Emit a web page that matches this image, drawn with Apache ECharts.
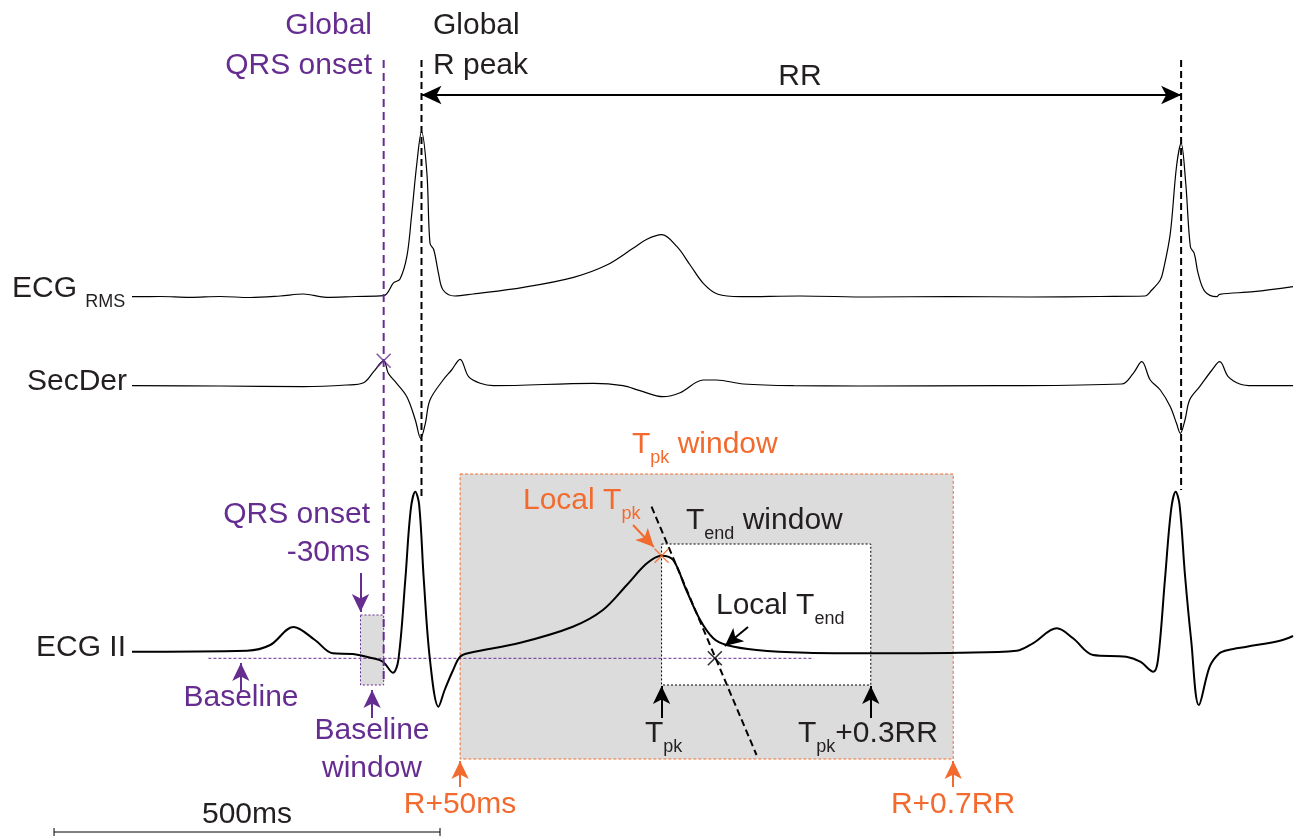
<!DOCTYPE html>
<html>
<head>
<meta charset="utf-8">
<script src="https://cdn.jsdelivr.net/npm/echarts/dist/echarts.min.js"></script>
<style>
  html, body { margin: 0; padding: 0; background: #fff; }
  #chart { width: 1300px; height: 838px; }
</style>
</head>
<body>
<div id="chart"></div>
<script>
// ---------------- DATA (time in ms, amplitude in arbitrary units) ----------------
// ECG RMS
const rmsTime = [101,137,176,215,254,293,323,353,390,427,440,448,457,463,470,476,483,487,492,498,504,519,543,608,673,716,750,768,787,807,824,841,860,889,966,1057,1161,1264,1355,1413,1422,1433,1437,1446,1454,1460,1466,1472,1477,1482,1491,1506,1510,1554,1605];
const rmsAmp  = [0,0.2,-0.6,0.2,-0.8,0.7,2.7,-0.6,0.2,1,14,17.4,40,80,133.4,165,123.4,53.4,46.7,23.4,6.7,0.7,2.7,9.4,19.4,31.7,48.4,57.4,62,50,31.7,13.4,2.4,0,0.7,-0.3,0.2,-0.3,0.2,0.7,6.7,16.7,26.7,63.4,130,153.4,113.4,50,43.4,23.4,5,0,2.4,5,10];
// Second derivative
const secTime = [101,215,323,379,401,414,427,433,442,457,468,475,481,487,504,515,526,537,552,569,699,737,759,789,811,841,858,893,958,1044,1225,1383,1398,1409,1420,1433,1446,1454,1459,1465,1471,1484,1500,1510,1521,1536,1553,1605];
const secAmp  = [0,-0.3,-1,0.7,3,14,25,12.4,4,-11,-34.3,-52.6,-37.6,-14.3,5.7,15.7,26.4,9,2.4,0,2.4,0,-5,-11,-7,5.7,5.7,1.7,0,-0.3,0,1.7,12.4,24,5.7,-4.3,-21,-37.6,-47.6,-34.3,-14.3,-1,15.7,24,9,1.7,0,0];
// ECG lead II
const ecgTime = [101,250,280,310,338,361,387,413,426,439,446,455,462,468,473,479,487,498,506,517,526,539,604,672,711,742,768,787,802,819,837,854,871,910,975,1061,1173,1247,1268,1299,1320,1346,1389,1407,1424,1430,1439,1447,1453,1458,1465,1473,1483,1497,1509,1521,1545,1588,1605];
const ecgAmp  = [0,1,6.7,24.7,11.7,-1.6,-2.3,-6.6,-10,-21,-8.3,71.7,141.7,160,146.7,71.7,-8.3,-55,-38.3,-18.3,-5,-1,9,25,41.7,66.7,88.4,96,91.7,61.7,31.7,13.4,6.7,1.7,-1,-1.6,-1,1,8.4,23.4,13.4,-3.3,-5,-10,-20,-8.3,71.7,141.7,160,146.7,76.7,11.7,-53.3,-15,-2,1.7,5,11,15.7];

// Fiducial events (ms)
const qrsOnset = 427;
const rPeaks = [476, 1460];
const tPeak = 787;
const tPeakAmp = 96;
const tEndWindowEnd = 1058;
const localTEnd = 856;
const baselineAmp = -6.6;          // baseline level on ECG II
const baselineSpan = [200, 984];
const tangentTime = [774, 910];
const tangentAmp = [145, -103.3];
const scaleBar = [0, 500];

// ---------------- LAYOUT ----------------
const X_MIN = -70, X_MAX = 1614;
const OFF_RMS = 541.3, OFF_SEC = 452.3, OFF_ECG = 186.3;
const PURPLE = '#662d91', ORANGE = '#f26a2e', BLACK = '#231f20', GREY = '#dcdcdc';
const FONT = '"Liberation Sans", Arial, Helvetica, sans-serif';

const RR = rPeaks[1] - rPeaks[0];
const rPlus50 = rPeaks[0] + 50;
const rPlus07 = rPeaks[0] + 0.7 * RR;

const pair = (ts, as, off) => ts.map((t, i) => [t, off + as[i]]);

function traceSeries(name, data, width) {
  return {
    type: 'line', name, data, smooth: 0.35, symbol: 'none', showSymbol: false,
    lineStyle: { color: '#000', width }, z: 3, silent: true, animation: false
  };
}
function segSeries(pts, color, width, dash, z) {
  return {
    type: 'line', data: pts, symbol: 'none', showSymbol: false,
    lineStyle: { color, width, type: dash || 'solid' }, z: z || 4, silent: true, animation: false
  };
}

const boxes = [
  { x: [rPlus50, rPlus07], y: [79, 364], fill: GREY, stroke: ORANGE, dash: [3, 2] },
  { x: [tPeak, tEndWindowEnd], y: [153, 294], fill: '#ffffff', stroke: '#000', dash: [2, 2] },
  { x: [qrsOnset - 30, qrsOnset], y: [153, 223], fill: GREY, stroke: PURPLE, dash: [2, 2] }
];

const SMALL = [13, 18];
const arrows = [
  { from: [rPeaks[0], 743], to: [rPeaks[1], 743], color: '#000', both: true, size: [14, 20] },
  { from: [qrsOnset - 30, 265], to: [qrsOnset - 30, 226], color: PURPLE, size: SMALL },
  { from: [242, 146], to: [242, 175], color: PURPLE, size: SMALL },
  { from: [qrsOnset - 15, 120], to: [qrsOnset - 15, 148], color: PURPLE, size: SMALL },
  { from: [rPlus50, 51], to: [rPlus50, 77], color: ORANGE, size: SMALL },
  { from: [rPlus07, 51], to: [rPlus07, 77], color: ORANGE, size: SMALL },
  { from: [tPeak, 120], to: [tPeak, 152], color: '#000', size: SMALL },
  { from: [tEndWindowEnd, 120], to: [tEndWindowEnd, 152], color: '#000', size: SMALL },
  { from: [750, 313], to: [777, 291], color: ORANGE, size: SMALL },
  { from: [899, 211], to: [869, 192], color: '#000', size: SMALL }
];

// ---------------- TEXT ----------------
const cvs = document.createElement('canvas').getContext('2d');
function measure(str, size) { cvs.font = size + 'px ' + FONT; return cvs.measureText(str).width; }
function textEl(x, y, str, color, size, align) {
  return {
    type: 'text', x, y, z: 100, silent: true,
    style: { text: str, font: size + 'px ' + FONT, fill: color,
      textAlign: align || 'left', textVerticalAlign: 'middle', align: align || 'left', verticalAlign: 'middle' }
  };
}
function chain(x, y, parts, color) {
  const out = []; let cx = x;
  parts.forEach(p => {
    const sub = p[1];
    const size = sub ? 18 : 30;
    out.push(textEl(cx, y + (sub ? 13 : 0), p[0], color, size, 'left'));
    cx += measure(p[0], size);
  });
  return out;
}
const texts = [].concat(
  [textEl(372, 26, 'Global', PURPLE, 30, 'right'), textEl(372, 66, 'QRS onset', PURPLE, 30, 'right')],
  [textEl(433, 26, 'Global', BLACK, 30, 'left'), textEl(433, 66, 'R peak', BLACK, 30, 'left')],
  [textEl(800, 77, 'RR', BLACK, 30, 'center')],
  chain(12, 289, [['ECG ', false], ['RMS', true]], BLACK),
  [textEl(127, 382, 'SecDer', BLACK, 30, 'right')],
  [textEl(126, 648, 'ECG II', BLACK, 30, 'right')],
  chain(632, 445, [['T', false], ['pk', true], [' window', false]], ORANGE),
  chain(523, 501, [['Local T', false], ['pk', true]], ORANGE),
  chain(686, 521, [['T', false], ['end', true], [' window', false]], BLACK),
  chain(716, 606, [['Local T', false], ['end', true]], BLACK),
  chain(645, 734, [['T', false], ['pk', true]], BLACK),
  chain(798, 734, [['T', false], ['pk', true], ['+0.3RR', false]], BLACK),
  [textEl(370, 515, 'QRS onset', PURPLE, 30, 'right'), textEl(370, 553, '-30ms', PURPLE, 30, 'right')],
  [textEl(241, 698, 'Baseline', PURPLE, 30, 'center')],
  [textEl(372, 731, 'Baseline', PURPLE, 30, 'center'), textEl(372, 769, 'window', PURPLE, 30, 'center')],
  [textEl(460, 805, 'R+50ms', ORANGE, 30, 'center'), textEl(953, 805, 'R+0.7RR', ORANGE, 30, 'center')],
  [textEl(247, 815, '500ms', BLACK, 30, 'center')]
);

// ---------------- CHART ----------------
const chart = echarts.init(document.getElementById('chart'), null, { renderer: 'canvas' });
const X_PATH = 'path://M0,0L10,10M10,0L0,10';
const xMark = (c) => ({ color: 'rgba(0,0,0,0)', borderColor: c, borderWidth: 1.6 });
const option = {
  animation: false,
  backgroundColor: '#fff',
  grid: { left: 0, right: 0, top: 0, bottom: 0 },
  xAxis: { type: 'value', min: X_MIN, max: X_MAX, show: false },
  yAxis: { type: 'value', min: 0, max: 838, show: false },
  series: [
    {
      type: 'custom', z: 1, silent: true, animation: false,
      encode: { x: [0, 1], y: [2, 3] },
      data: boxes.map(b => [b.x[0], b.x[1], b.y[0], b.y[1]]),
      renderItem: function (params, api) {
        const b = boxes[params.dataIndex];
        const p0 = api.coord([api.value(0), api.value(3)]);
        const p1 = api.coord([api.value(1), api.value(2)]);
        return {
          type: 'rect',
          shape: { x: p0[0], y: p0[1], width: p1[0] - p0[0], height: p1[1] - p0[1] },
          style: { fill: b.fill, stroke: b.stroke, lineWidth: 1, lineDash: b.dash }
        };
      }
    },
    segSeries([[baselineSpan[0], OFF_ECG + baselineAmp], [baselineSpan[1], OFF_ECG + baselineAmp]], PURPLE, 1, [3, 2], 2),
    traceSeries('ECG RMS', pair(rmsTime, rmsAmp, OFF_RMS), 1.2),
    traceSeries('SecDer', pair(secTime, secAmp, OFF_SEC), 1.2),
    traceSeries('ECG II', pair(ecgTime, ecgAmp, OFF_ECG), 2),
    segSeries([[qrsOnset, 778], [qrsOnset, 154]], PURPLE, 2, [8, 5]),
    segSeries([[rPeaks[0], 778], [rPeaks[0], 338]], '#000', 2, [7, 4]),
    segSeries([[rPeaks[1], 778], [rPeaks[1], 348]], '#000', 2, [7, 4]),
    segSeries([[tangentTime[0], OFF_ECG + tangentAmp[0]], [tangentTime[1], OFF_ECG + tangentAmp[1]]], '#000', 2, [7, 4]),
    segSeries([[scaleBar[0], 6], [scaleBar[1], 6]], '#000', 1),
    segSeries([[scaleBar[0], 10], [scaleBar[0], 2]], '#000', 1),
    segSeries([[scaleBar[1], 10], [scaleBar[1], 2]], '#000', 1),
    {
      type: 'scatter', data: [], z: 5, silent: true, animation: false,
      markLine: {
        silent: true, animation: false, precision: 4,
        symbol: ['none', 'arrow'], symbolSize: SMALL,
        label: { show: false }, emphasis: { disabled: true },
        data: arrows.map(a => [
          { coord: a.from, symbol: a.both ? 'arrow' : 'none', symbolSize: a.size,
            lineStyle: { color: a.color, width: 2, type: 'solid' }, itemStyle: { color: a.color } },
          { coord: a.to, symbol: 'arrow', symbolSize: a.size,
            lineStyle: { color: a.color, width: 2, type: 'solid' }, itemStyle: { color: a.color } }
        ])
      }
    },
    {
      type: 'scatter', z: 6, silent: true, animation: false,
      symbol: X_PATH, symbolSize: 14,
      data: [
        { value: [qrsOnset, OFF_SEC + 25], itemStyle: xMark(PURPLE) },
        { value: [tPeak, OFF_ECG + tPeakAmp], itemStyle: xMark(ORANGE) },
        { value: [localTEnd, OFF_ECG + baselineAmp], itemStyle: xMark('#000') }
      ]
    }
  ],
  graphic: texts
};
chart.setOption(option);
</script>
</body>
</html>
